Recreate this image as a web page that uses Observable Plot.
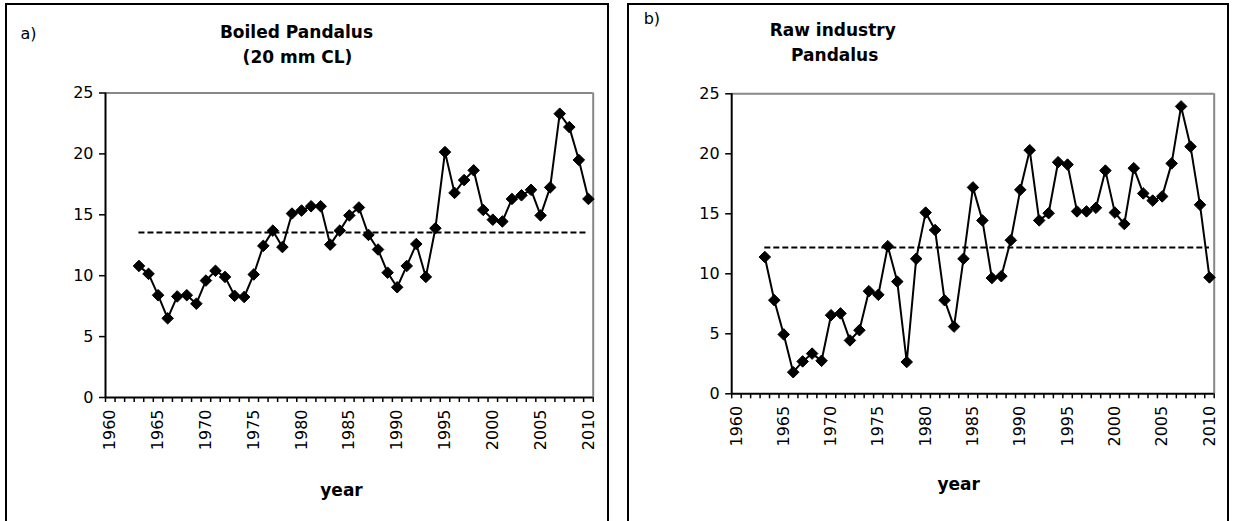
<!DOCTYPE html>
<html><head><meta charset="utf-8">
<script src="https://cdn.jsdelivr.net/npm/d3@7"></script>
<script src="https://cdn.jsdelivr.net/npm/@observablehq/plot@0.6"></script>
<style>
body{margin:0;background:#fff;width:1233px;height:521px;overflow:hidden;position:relative;font-family:"DejaVu Sans",Verdana,sans-serif;}
.panel{position:absolute;top:0;}
.box{position:absolute;border:2px solid #000;box-sizing:border-box;}
</style></head><body>
<div class="box" style="left:5px;top:3px;width:604px;height:540px"></div>
<div class="box" style="left:627px;top:3px;width:602px;height:540px"></div>
<div id="a" class="panel" style="left:0"></div>
<div id="b" class="panel" style="left:616px"></div>
<script>
const years = [1963,1964,1965,1966,1967,1968,1969,1970,1971,1972,
  1973,1974,1975,1976,1977,1978,1979,1980,1981,1982,
  1983,1984,1985,1986,1987,1988,1989,1990,1991,1992,
  1993,1994,1995,1996,1997,1998,1999,2000,2001,2002,
  2003,2004,2005,2006,2007,2008,2009,2010];
const boiled = [10.8,10.15,8.4,6.5,8.3,8.4,7.7,9.6,10.4,9.9,
  8.35,8.25,10.1,12.45,13.7,12.35,15.1,15.35,15.7,15.7,
  12.55,13.7,14.95,15.6,13.35,12.15,10.25,9.05,10.8,12.6,
  9.9,13.9,20.15,16.8,17.85,18.65,15.4,14.6,14.45,16.3,
  16.6,17.05,14.95,17.25,23.3,22.2,19.5,16.3];
const raw = [11.4,7.8,4.95,1.8,2.7,3.35,2.75,6.55,6.7,4.45,
  5.3,8.55,8.25,12.3,9.35,2.65,11.25,15.1,13.65,7.8,
  5.6,11.25,17.2,14.45,9.65,9.8,12.8,17.0,20.3,14.45,
  15.05,19.3,19.1,15.2,15.2,15.5,18.6,15.1,14.15,18.8,
  16.7,16.1,16.45,19.2,23.95,20.6,15.75,9.7];
const boiledMean = 13.55;
const rawMean = 12.2;
const yTicks = [0,5,10,15,20,25];
const yearLabels = [1960,1965,1970,1975,1980,1985,1990,1995,2000,2005,2010];
const titleA = ["Boiled Pandalus","(20 mm CL)"];
const titleB = ["Raw industry","Pandalus"];

const font = "DejaVu Sans, Verdana, sans-serif";
const boundaries = d3.range(1959.5, 2011, 1);

function panel(o) {
  const data = years.map((yr, i) => ({year: yr, v: o.values[i]}));
  return Plot.plot({
    width: o.width, height: 521,
    marginLeft: o.ml, marginRight: o.mr, marginTop: o.mt, marginBottom: o.mb,
    style: {fontFamily: font, fontSize: "16px", color: "#000", background: "transparent", overflow: "visible"},
    x: {domain: [1959.5, 2010.5]},
    y: {domain: [0, 25]},
    marks: [
      Plot.ruleY([25], {stroke: "#888", strokeWidth: 2}),
      Plot.ruleX([2010.5], {stroke: "#888", strokeWidth: 2}),
      Plot.axisX({ticks: boundaries, tickFormat: () => "", tickSize: 5, stroke: "#000", strokeWidth: 1.5, label: null}),
      Plot.axisX({ticks: yearLabels, tickFormat: d => String(d), tickSize: 0, tickRotate: -90, tickPadding: 12, fontSize: 16, label: null}),
      Plot.axisY({ticks: yTicks, tickSize: 6, tickPadding: 6, fontSize: 16, stroke: "#000", strokeWidth: 1.5, label: null}),
      Plot.ruleX([1959.5], {stroke: "#000", strokeWidth: 2}),
      Plot.ruleY([0], {stroke: "#000", strokeWidth: 2}),
      Plot.ruleY([o.mean], {x1: years[0], x2: years[years.length - 1], stroke: "#000", strokeWidth: 2, strokeDasharray: "6,3"}),
      Plot.line(data, {x: "year", y: "v", stroke: "#000", strokeWidth: 2}),
      Plot.dot(data, {x: "year", y: "v", symbol: "diamond2", r: 5.2, fill: "#000", stroke: "#000", strokeWidth: 1}),
      Plot.text([o.tag], {text: d => d, frameAnchor: "top-left", lineAnchor: "middle", dx: o.tagDx, dy: o.tagDy, fontSize: 16, textAnchor: "start"}),
      Plot.text([o.title[0]], {text: d => d, frameAnchor: "top-left", lineAnchor: "middle", dx: o.tDx, dy: o.tDy, fontSize: 17, fontWeight: "bold", textAnchor: "middle"}),
      Plot.text([o.title[1]], {text: d => d, frameAnchor: "top-left", lineAnchor: "middle", dx: o.tDx2, dy: o.tDy + 25, fontSize: 17, fontWeight: "bold", textAnchor: "middle"}),
      Plot.text(["year"], {text: d => d, frameAnchor: "bottom-left", lineAnchor: "middle", dx: o.yDx, dy: o.yDy, fontSize: 17, fontWeight: "bold", textAnchor: "middle"})
    ]
  });
}

document.getElementById("a").append(panel({
  values: boiled, mean: boiledMean, width: 616,
  ml: 105, mr: 23.3, mt: 92.5, mb: 124,
  tag: "a)", tagDx: -85, tagDy: -59,
  title: titleA, tDx: 191, tDx2: 192, tDy: -60,
  yDx: 236, yDy: 93
}));
document.getElementById("b").append(panel({
  values: raw, mean: rawMean, width: 617,
  ml: 115.2, mr: 19.3, mt: 93.3, mb: 127.7,
  tag: "b)", tagDx: -88, tagDy: -75,
  title: titleB, tDx: 101, tDx2: 103, tDy: -63,
  yDx: 227, yDy: 91
}));
</script>
</body></html>
